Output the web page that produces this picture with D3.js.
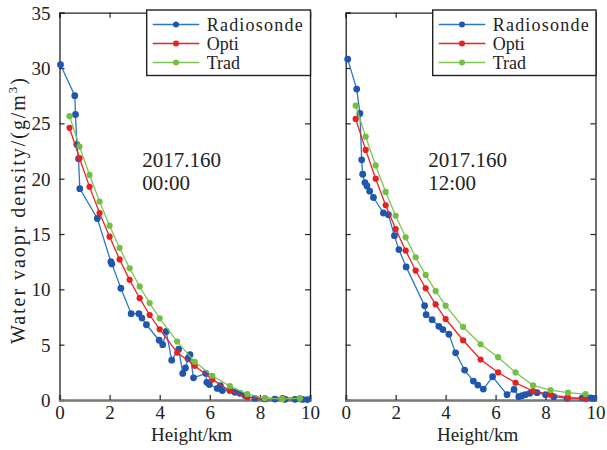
<!DOCTYPE html>
<html><head><meta charset="utf-8">
<script src="https://cdn.jsdelivr.net/npm/d3@7"></script>
<style>body{margin:0;background:#fff}svg{display:block}svg text{font-family:"Liberation Serif","DejaVu Serif",serif !important;fill:#222}</style>
</head><body><div id="c"></div>
<script>
// ---- data ----
const modelHeights = [0.4,0.8,1.2,1.6,2.0,2.4,2.8,3.2,3.6,4.0,4.7,5.4,6.1,6.8,7.5,8.2,8.9,9.6];
const leftRadioH = [0.04,0.61,0.64,0.69,0.76,0.81,1.51,2.05,2.09,2.45,2.86,3.17,3.29,3.47,3.98,4.12,4.26,4.48,4.76,4.92,5.03,5.13,5.21,5.35,5.84,5.88,5.98,6.3,6.42,6.5,6.8,7.0,7.2,7.4,7.8,8.2,8.6,9.0,9.4,9.7,9.9];
const leftRadioV = [30.3,27.5,25.8,23.1,21.8,19.1,16.4,12.5,12.3,10.1,7.8,7.8,7.4,6.8,5.4,5.0,6.2,3.6,4.6,2.4,2.9,3.75,4.1,2.0,2.4,1.6,1.4,1.05,1.3,0.85,0.9,0.7,0.6,0.4,0.15,0.1,0.08,0.07,0.06,0.05,0.04];
const leftOpti = [24.6,21.85,19.26,16.9,14.76,12.7,10.86,9.2,7.68,6.39,4.29,3.09,1.86,0.84,0.24,0.15,0.18,0.15];
const leftTrad = [25.65,22.9,20.34,17.94,15.75,13.74,11.9,10.26,8.76,7.38,5.28,3.45,2.19,1.26,0.54,0.15,0.1,0.15];
const rightRadioH = [0.08,0.44,0.57,0.64,0.68,0.77,0.85,0.96,1.11,1.51,1.71,1.95,2.13,2.42,3.16,3.22,3.46,3.73,3.89,4.13,4.4,4.76,5.11,5.29,5.51,5.88,6.46,6.74,6.93,7.06,7.19,7.37,7.66,8.0,8.33,8.86,9.47,9.8,9.93];
const rightRadioV = [30.8,28.1,25.9,21.7,20.4,19.65,19.35,18.87,18.3,16.9,16.74,14.85,13.59,12.03,8.52,7.71,7.26,6.66,6.36,5.94,4.26,2.7,1.71,1.35,0.99,2.1,0.48,0.96,0.3,0.39,0.48,0.6,0.66,0.48,0.3,0.15,0.2,0.2,0.15];
const rightOpti = [25.4,22.6,20.0,17.6,15.45,13.5,11.7,10.1,8.64,7.32,5.4,3.66,2.49,1.56,0.81,0.48,0.21,0.09];
const rightTrad = [26.6,23.8,21.2,18.8,16.65,14.7,12.9,11.3,9.84,8.52,6.6,5.04,3.87,2.49,1.32,0.9,0.66,0.54];
const xTicks = [0,2,4,6,8,10];
const yTicks = [0,5,10,15,20,25,30,35];
const seriesNames = ["Radiosonde","Opti","Trad"];
const panelLabels = [["2017.160","00:00"],["2017.160","12:00"]];
const xTitle = "Height/km";

// ---- styles ----
const FONT = "'Liberation Serif','DejaVu Serif',serif";
const lineColors = ["#2a78c8","#ec2226","#80c554"];
const dotColors = ["#1f56ae","#e8201f","#72bf44"];
const dotR = [3.4,3.1,3.1];

const W = 607, H = 450;
const svg = d3.select("#c").append("svg").attr("width",W).attr("height",H).attr("font-family",FONT);
const y = d3.scaleLinear().domain([0,35]).range([400,12.7]);

const panels = [
  {x0:59.5, x1:310, radio:[leftRadioH,leftRadioV], opti:leftOpti, trad:leftTrad, labels:panelLabels[0], showY:true, legX:146.7},
  {x0:345.7, x1:595.5, radio:[rightRadioH,rightRadioV], opti:rightOpti, trad:rightTrad, labels:panelLabels[1], showY:false, legX:432.7}
];

function pairs(hs, vs){ return hs.map((h,i)=>[h,vs[i]]); }

panels.forEach(p => {
  const x = d3.scaleLinear().domain([0,10]).range([p.x0,p.x1]);
  const g = svg.append("g");
  const left = d3.axisLeft(y).tickValues(yTicks).tickSize(-5).tickPadding(9);
  if (!p.showY) left.tickFormat("");
  const gl = g.append("g").attr("transform",`translate(${p.x0},0)`).call(left);
  const gr = g.append("g").attr("transform",`translate(${p.x1},0)`).call(d3.axisRight(y).tickValues(yTicks).tickSize(-5).tickFormat(""));
  const gt = g.append("g").attr("transform",`translate(0,${y(35)})`).call(d3.axisTop(x).tickValues(xTicks).tickSize(-5).tickFormat(""));
  const gb = g.append("g").attr("transform",`translate(0,${y(0)})`).call(d3.axisBottom(x).tickValues(xTicks).tickSize(-5).tickPadding(5));
  [gl,gr,gt,gb].forEach(a => {
    a.attr("font-family",FONT);
    a.selectAll(".domain").attr("stroke","#222").attr("stroke-width",1.3);
    a.selectAll(".tick line").attr("stroke","#222").attr("stroke-width",1.2);
    a.selectAll("text").attr("font-size",19).attr("fill","#222");
  });
  gb.select(".domain").attr("stroke","#777").attr("stroke-width",2.4);
  gl.selectAll("text").attr("dy","0.34em");
  gb.selectAll("text").attr("dy","0.72em");

  const series = [
    pairs(p.radio[0], p.radio[1]),
    pairs(modelHeights, p.opti),
    pairs(modelHeights, p.trad)
  ];
  const line = d3.line().x(d=>x(d[0])).y(d=>y(d[1]));
  series.forEach((s,i) => {
    g.append("path").attr("d",line(s)).attr("fill","none").attr("stroke",lineColors[i]).attr("stroke-width",1.3);
    g.selectAll(null).data(s).enter().append("circle")
      .attr("cx",d=>x(d[0])).attr("cy",d=>y(d[1])).attr("r",dotR[i]).attr("fill",dotColors[i]);
  });

  g.append("text").attr("x",x(3.3)).attr("y",167).attr("font-size",21).text(p.labels[0]);
  g.append("text").attr("x",x(3.3)).attr("y",190).attr("font-size",21).text(p.labels[1]);

  g.append("text").attr("x",(p.x0+p.x1)/2+7).attr("y",441).attr("text-anchor","middle").attr("font-size",19).text(xTitle);

  const lg = g.append("g");
  lg.append("rect").attr("x",p.legX).attr("y",10).attr("width",p.x1 - p.legX + 0.5).attr("height",65.5)
    .attr("fill","#fff").attr("stroke","#222").attr("stroke-width",1.4);
  seriesNames.forEach((n,i) => {
    const ly = 24.5 + i*19;
    lg.append("line").attr("x1",p.legX+6).attr("x2",p.legX+52.6).attr("y1",ly).attr("y2",ly).attr("stroke",lineColors[i]).attr("stroke-width",1.3);
    lg.append("circle").attr("cx",p.legX+29.3).attr("cy",ly).attr("r",3).attr("fill",dotColors[i]);
    lg.append("text").attr("x",p.legX+60).attr("y",ly+6).attr("font-size",18).attr("textLength", n.length > 5 ? 96 : null).text(n);
  });
});

const yt = svg.append("text").attr("transform","translate(25,211) rotate(-90)").attr("text-anchor","middle").attr("font-size",20)
  .attr("textLength",266).attr("lengthAdjust","spacing");
yt.append("tspan").text("Water vaopr density/(g/m");
yt.append("tspan").attr("font-size",13).attr("dy",-8).text("3");
yt.append("tspan").attr("dy",8).text(")");
</script></body></html>
